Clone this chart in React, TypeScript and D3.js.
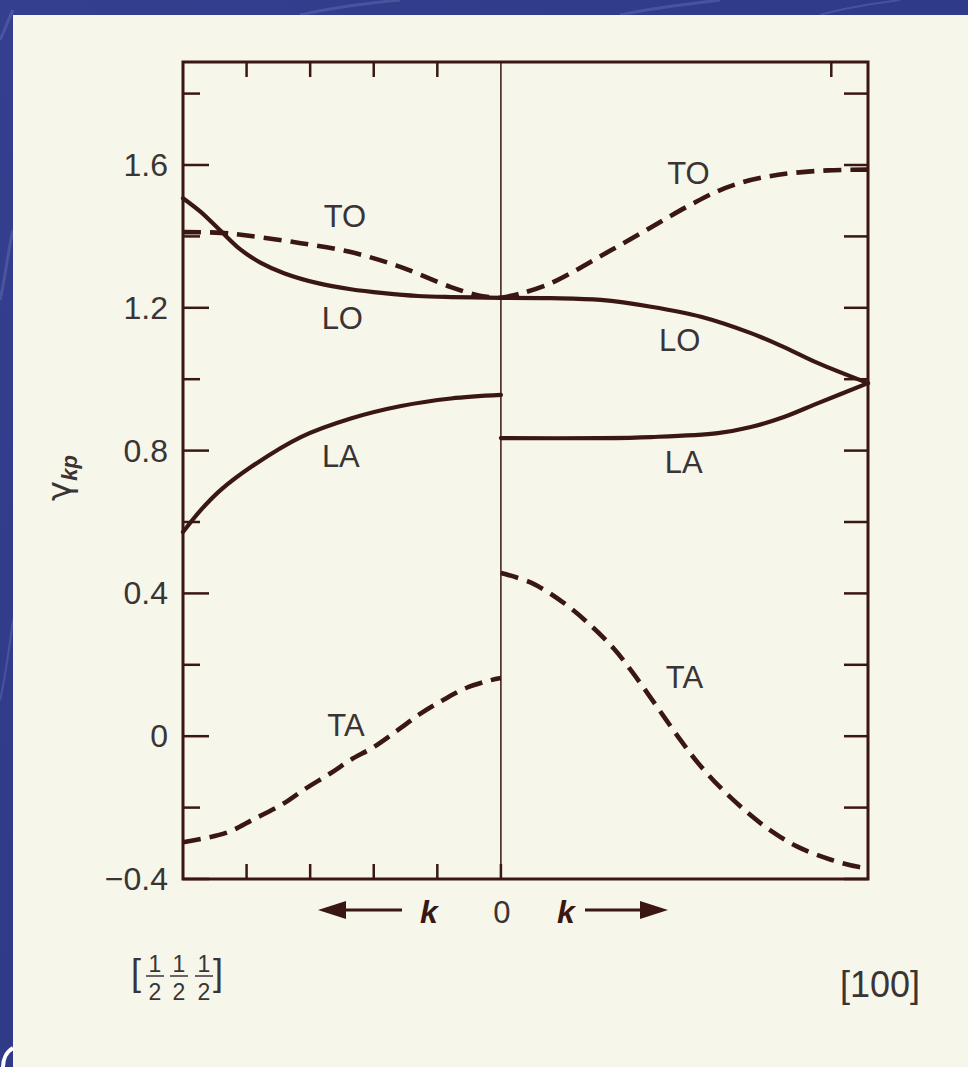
import React from "react";
import * as d3 from "d3";

// ---- data ----
const yTickValues = [-0.4, -0.2, 0, 0.2, 0.4, 0.6, 0.8, 1.0, 1.2, 1.4, 1.6, 1.8];
const yTickLabels = ["−0.4", "0", "0.4", "0.8", "1.2", "1.6"];
const yLabeledValues = [-0.4, 0, 0.4, 0.8, 1.2, 1.6];

const kL = -0.866; // [1/2 1/2 1/2] zone boundary
const kX = 1.0; // [100] zone boundary

// left half ([1/2 1/2 1/2] direction), k < 0
const leftK_TO = [-0.866, -0.763, -0.681, -0.545, -0.409, -0.272, -0.136, -0.054, 0];
const leftTO = [1.412, 1.41, 1.401, 1.381, 1.356, 1.314, 1.258, 1.233, 1.228];

const leftK_LO = [-0.866, -0.817, -0.763, -0.708, -0.654, -0.591, -0.499, -0.409, -0.319, -0.226, -0.136, 0];
const leftLO = [1.507, 1.468, 1.415, 1.362, 1.326, 1.297, 1.269, 1.252, 1.241, 1.233, 1.23, 1.228];

const leftK_LA = [-0.866, -0.817, -0.763, -0.681, -0.545, -0.409, -0.272, -0.136, 0];
const leftLA = [0.572, 0.634, 0.69, 0.754, 0.838, 0.89, 0.925, 0.946, 0.956];

const leftK_TA = [-0.866, -0.749, -0.676, -0.591, -0.537, -0.463, -0.409, -0.346, -0.281, -0.218, -0.158, -0.095, -0.027, 0];
const leftTA = [-0.297, -0.271, -0.234, -0.188, -0.15, -0.103, -0.066, -0.03, 0.017, 0.064, 0.101, 0.135, 0.157, 0.163];

// right half ([100] direction), k > 0
const rightK_TO = [0, 0.054, 0.136, 0.204, 0.267, 0.332, 0.395, 0.458, 0.523, 0.591, 0.659, 0.728, 0.798, 0.891, 1.0];
const rightTO = [1.228, 1.24, 1.269, 1.305, 1.342, 1.38, 1.417, 1.455, 1.492, 1.527, 1.552, 1.568, 1.578, 1.585, 1.587];

const rightK_LO = [0, 0.136, 0.272, 0.409, 0.545, 0.681, 0.771, 0.864, 1.0];
const rightLO = [1.228, 1.227, 1.222, 1.203, 1.175, 1.129, 1.09, 1.045, 0.989];

const rightK_LA = [0, 0.272, 0.409, 0.591, 0.681, 0.771, 0.864, 1.0];
const rightLA = [0.835, 0.835, 0.838, 0.849, 0.866, 0.894, 0.933, 0.989];

const rightK_TA = [0, 0.082, 0.172, 0.245, 0.308, 0.354, 0.401, 0.444, 0.49, 0.537, 0.599, 0.673, 0.736, 0.809, 0.899, 0.973, 1.0];
const rightTA = [0.457, 0.43, 0.373, 0.31, 0.245, 0.185, 0.118, 0.055, -0.012, -0.075, -0.145, -0.215, -0.265, -0.31, -0.346, -0.366, -0.37];

const branchLabels = [
  { text: "TO", k: -0.425, v: 1.425 },
  { text: "LO", k: -0.432, v: 1.14 },
  { text: "LA", k: -0.436, v: 0.755 },
  { text: "TA", k: -0.422, v: 0.0 },
  { text: "TO", k: 0.511, v: 1.546 },
  { text: "LO", k: 0.487, v: 1.08 },
  { text: "LA", k: 0.498, v: 0.737 },
  { text: "TA", k: 0.5, v: 0.136 },
];

const topTickK = [-0.866 * 0.2, -0.866 * 0.4, -0.866 * 0.6, -0.866 * 0.8, 0.9];
const bottomTickK = [-0.866 * 0.2, -0.866 * 0.4, -0.866 * 0.6, -0.866 * 0.8, 0];

// ---- layout ----
const W = 968;
const H = 1067;
const left = 183;
const right = 868;
const top = 62;
const bottom = 879;

const INK = "#3a1712";
const TEXT = "#3b3434";
const PANEL = "#f6f7ea";

export default function App() {
  const x = d3.scaleLinear().domain([kL, kX]).range([left, right]);
  const y = d3.scaleLinear().domain([-0.4, 1.6]).range([bottom, 165]);

  const line = d3
    .line<[number, number]>()
    .x((d) => x(d[0]))
    .y((d) => y(d[1]))
    .curve(d3.curveCatmullRom.alpha(0.5));

  const mk = (ks: number[], vs: number[]) => line(ks.map((k, i) => [k, vs[i]] as [number, number])) || "";

  const solid = [mk(leftK_LO, leftLO), mk(leftK_LA, leftLA), mk(rightK_LO, rightLO), mk(rightK_LA, rightLA)];
  const dashed = [mk(leftK_TO, leftTO), mk(leftK_TA, leftTA), mk(rightK_TO, rightTO), mk(rightK_TA, rightTA)];

  const x0 = x(0);

  return (
    <svg
      width={W}
      height={H}
      viewBox={`0 0 ${W} ${H}`}
      style={{ position: "absolute", left: 0, top: 0, display: "block" }}
    >
      <defs>
        <linearGradient id="bg" x1="0" y1="0" x2="1" y2="1">
          <stop offset="0" stopColor="#34408f" />
          <stop offset="0.5" stopColor="#2f3a88" />
          <stop offset="1" stopColor="#323c8c" />
        </linearGradient>
      </defs>
      <rect x={0} y={0} width={W} height={H} fill="url(#bg)" />
      {/* marble streaks in the blue border */}
      <g stroke="#6370b4" strokeOpacity={0.45} fill="none">
        <path d="M0,40 C5,30 8,20 13,10" strokeWidth={3} />
        <path d="M0,300 C5,280 8,250 13,230" strokeWidth={3} />
        <path d="M0,700 C5,680 9,650 13,620" strokeWidth={2} />
        <path d="M300,15 C330,8 360,4 400,0" strokeWidth={3} />
        <path d="M620,15 C650,8 690,4 720,0" strokeWidth={3} />
        <path d="M820,15 C850,6 880,3 900,0" strokeWidth={2} />
      </g>
      <rect x={13} y={15} width={W - 13} height={H - 15} fill={PANEL} />
      <path d="M13,1048 C6,1052 3,1060 3,1067" fill="none" stroke="#ffffff" strokeWidth={4} />

      {/* frame */}
      <rect x={left} y={top} width={right - left} height={bottom - top} fill="none" stroke={INK} strokeWidth={3} />
      {/* k = 0 divider */}
      <line x1={x0} x2={x0} y1={top} y2={bottom} stroke={INK} strokeWidth={1.5} />

      {/* left ticks */}
      {yTickValues.map((v) => {
        const major = yLabeledValues.some((m) => Math.abs(m - v) < 1e-6);
        return (
          <line key={"l" + v} x1={left} x2={left + (major ? 26 : 17)} y1={y(v)} y2={y(v)} stroke={INK} strokeWidth={2.5} />
        );
      })}
      {/* right ticks */}
      {yTickValues.map((v) => (
        <line key={"r" + v} x1={right} x2={right - 24} y1={y(v)} y2={y(v)} stroke={INK} strokeWidth={2.5} />
      ))}
      {/* top / bottom ticks */}
      {topTickK.map((k) => (
        <line key={"t" + k} x1={x(k)} x2={x(k)} y1={top} y2={top + 15} stroke={INK} strokeWidth={2.5} />
      ))}
      {bottomTickK.map((k) => (
        <line key={"b" + k} x1={x(k)} x2={x(k)} y1={bottom} y2={bottom - 15} stroke={INK} strokeWidth={2.5} />
      ))}

      {/* tick labels */}
      {yLabeledValues.map((v, i) => (
        <text
          key={"tl" + v}
          x={168}
          y={y(v) + 11}
          textAnchor="end"
          fontSize={32}
          fill={TEXT}
          fontFamily="Liberation Sans, Arial, sans-serif"
        >
          {yTickLabels[i]}
        </text>
      ))}

      {/* curves */}
      {solid.map((d, i) => (
        <path key={"s" + i} d={d} fill="none" stroke={INK} strokeWidth={4.2} strokeLinecap="round" />
      ))}
      {dashed.map((d, i) => (
        <path key={"d" + i} d={d} fill="none" stroke={INK} strokeWidth={4.6} strokeDasharray="18 9" />
      ))}

      {/* branch labels */}
      {branchLabels.map((b, i) => (
        <text
          key={"bl" + i}
          x={x(b.k)}
          y={y(b.v)}
          textAnchor="middle"
          fontSize={31}
          fill={TEXT}
          fontFamily="Liberation Sans, Arial, sans-serif"
        >
          {b.text}
        </text>
      ))}

      {/* y axis label */}
      <g transform="translate(71,478) rotate(-90)">
        <text textAnchor="middle" fill={TEXT} fontFamily="DejaVu Sans, sans-serif">
          <tspan fontSize={34}>γ</tspan>
          <tspan fontSize={22} fontWeight="bold" fontStyle="italic" dy={6} fontFamily="Liberation Sans, Arial, sans-serif">
            kp
          </tspan>
        </text>
      </g>

      {/* bottom k arrows */}
      <g fill={INK} stroke={INK}>
        <line x1={338} x2={402} y1={910} y2={910} strokeWidth={3} />
        <path d="M318,910 L346,901 L346,919 Z" stroke="none" />
        <line x1={585} x2={648} y1={910} y2={910} strokeWidth={3} />
        <path d="M668,910 L640,901 L640,919 Z" stroke="none" />
      </g>
      <text x={429} y={923} textAnchor="middle" fontSize={32} fontWeight="bold" fontStyle="italic" fill={INK} fontFamily="Liberation Sans, Arial, sans-serif">
        k
      </text>
      <text x={x0 + 1} y={923} textAnchor="middle" fontSize={31} fill={TEXT} fontFamily="Liberation Sans, Arial, sans-serif">
        0
      </text>
      <text x={566} y={923} textAnchor="middle" fontSize={32} fontWeight="bold" fontStyle="italic" fill={INK} fontFamily="Liberation Sans, Arial, sans-serif">
        k
      </text>

      {/* direction labels */}
      <g fill={TEXT} fontFamily="Liberation Sans, Arial, sans-serif">
        <text x={131} y={985} fontSize={36}>[</text>
        {[155, 179, 204].map((cx) => (
          <g key={"f" + cx}>
            <text x={cx} y={972} fontSize={23} textAnchor="middle">1</text>
            <line x1={cx - 9} x2={cx + 9} y1={976} y2={976} stroke={TEXT} strokeWidth={1.5} />
            <text x={cx} y={1000} fontSize={23} textAnchor="middle">2</text>
          </g>
        ))}
        <text x={213} y={985} fontSize={36}>]</text>
        <text x={840} y={997} fontSize={36}>[100]</text>
      </g>
    </svg>
  );
}
